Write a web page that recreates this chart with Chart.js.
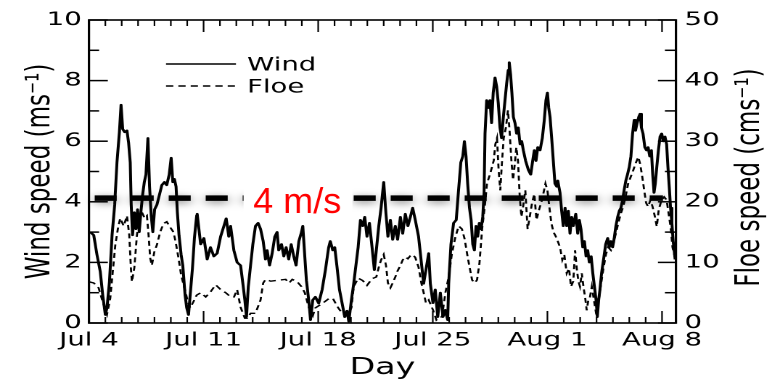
<!DOCTYPE html>
<html>
<head>
<meta charset="utf-8">
<script src="https://cdn.jsdelivr.net/npm/chart.js@4/dist/chart.umd.min.js"></script>
<style>
  html, body { margin: 0; padding: 0; background: #fff; overflow: hidden; }
  #wrap { width: 532px; height: 386px; transform: scaleX(1.451128); transform-origin: 0 0; }
  canvas { display: block; }
</style>
</head>
<body>
<div id="wrap"><canvas id="c" width="532" height="386"></canvas></div>
<script>
// ---------------- data ----------------
const tickDays   = [0, 7, 14, 21, 28, 35];
const tickLabels = ['Jul 4', 'Jul 11', 'Jul 18', 'Jul 25', 'Aug 1', 'Aug 8'];

// days since Jul 4 and wind speed (m/s)
const windDays = [
  0.08,0.29,0.49,0.69,0.84,1.00,1.10,1.25,1.41,1.57,1.71,1.86,1.96,2.06,2.18,2.32,2.42,2.52,2.58,2.66,
  2.77,2.87,2.97,3.07,3.17,3.27,3.38,3.48,3.60,3.70,3.80,3.90,4.01,4.15,4.29,4.45,4.61,4.75,4.90,5.02,
  5.12,5.22,5.32,5.40,5.50,5.63,5.73,5.87,5.97,6.08,6.18,6.32,6.44,6.58,
  6.61,6.82,7.02,7.22,7.42,7.63,7.83,8.04,8.24,8.38,8.54,8.65,8.85,9.05,9.26,9.40,9.52,9.62,9.73,9.87,
  10.01,10.17,10.33,10.48,10.64,10.78,10.88,11.03,11.19,11.35,11.49,11.59,11.76,11.90,12.04,12.20,12.35,12.51,12.65,12.82,
  12.98,13.06,13.18,13.28,13.42,13.53,13.67,
  13.83,14.03,14.24,14.44,14.64,14.74,14.89,15.01,15.15,15.30,15.46,15.62,15.76,15.87,16.03,16.17,16.27,16.44,16.58,16.72,
  16.84,16.98,17.13,17.29,17.43,17.55,17.70,17.84,18.00,18.14,18.26,18.41,18.55,18.71,18.85,19.02,19.16,19.32,19.48,19.63,
  19.77,19.93,20.13,20.30,20.44,20.58,20.75,
  20.85,21.01,21.15,21.30,21.46,21.62,21.76,21.91,21.97,22.11,22.27,22.43,22.56,22.71,22.83,22.93,23.03,23.13,23.24,23.34,
  23.44,23.54,23.64,23.74,23.84,23.95,24.05,24.13,24.19,24.29,24.39,24.49,24.59,24.69,24.80,24.90,25.00,25.10,25.20,25.31,
  25.41,25.51,25.61,25.67,25.75,25.83,25.92,26.02,26.12,26.22,26.33,26.43,26.53,26.67,26.84,26.98,27.10,27.20,27.30,27.41,
  27.55,27.69,27.81,27.91,28.00,28.08,28.16,28.26,28.36,28.46,28.57,
  28.63,28.77,28.87,28.97,29.08,29.18,29.28,29.38,29.48,29.58,29.73,29.85,29.95,30.05,30.16,30.26,30.36,30.46,30.56,30.67,
  30.77,30.87,30.97,31.05,31.13,31.21,31.31,31.43,31.56,31.68,31.78,31.88,31.98,32.08,32.18,32.29,32.39,32.49,32.59,32.69,
  32.79,32.89,33.00,33.10,33.20,33.30,33.38,33.48,33.58,33.66,33.74,33.84,33.95,34.05,34.15,34.25,34.35,34.43,34.51,34.59,
  34.68,34.78,34.88,34.98,35.08,35.18,35.28,35.36,35.44,35.52,35.60,35.68,35.80];
const windSpeed = [
  3.0,2.9,2.25,1.7,0.92,0.27,0.5,1.35,2.9,3.9,5.3,6.3,7.2,6.4,6.3,6.35,5.95,5.3,3.9,2.9,
  3.65,3.1,3.75,3.0,3.65,4.2,4.65,4.9,6.1,4.5,3.55,3.0,3.75,3.9,4.2,4.55,4.65,4.55,4.9,5.45,
  4.65,4.75,4.5,3.65,2.9,2.25,1.9,0.92,0.5,0.27,0.92,1.8,2.8,3.55,
  3.6,2.6,2.8,2.1,2.5,2.2,2.3,2.85,3.2,3.45,2.85,3.2,2.4,2.0,1.9,1.3,0.76,0.2,1.2,1.9,
  2.6,3.2,3.3,3.1,2.7,2.1,2.4,1.9,2.3,2.85,3.0,2.4,2.6,2.2,2.5,2.1,2.6,2.2,1.9,2.7,
  3.0,3.2,2.2,1.4,0.76,0.1,0.76,
  0.86,0.65,1.1,1.75,2.5,2.7,2.4,2.5,1.85,1.1,0.65,0.2,0.4,0.05,0.76,1.3,1.75,2.5,3.4,3.2,
  3.5,2.85,3.3,2.5,1.75,2.4,3.2,3.8,4.65,3.6,2.85,3.4,2.75,3.2,2.75,3.5,2.95,3.6,3.2,3.5,
  3.8,3.4,2.85,2.0,1.3,1.75,2.3,
  1.3,0.66,1.1,0.2,1.0,0.2,0.43,0.1,1.3,2.6,3.3,3.4,4.3,5.3,5.5,6.0,5.5,4.6,3.8,3.4,
  2.6,2.4,3.2,2.85,3.3,3.1,3.5,4.3,6.25,7.35,7.1,7.35,6.6,7.6,8.1,7.8,7.25,6.45,6.1,6.8,
  7.35,7.9,8.35,8.6,8.2,7.6,6.8,6.6,6.25,6.45,5.9,6.0,5.7,5.35,5.05,4.9,5.35,5.7,5.35,5.8,
  5.7,6.1,6.7,7.35,7.6,7.1,6.8,6.1,5.35,4.6,4.5,
  4.7,4.3,3.7,3.2,3.8,3.2,3.7,2.95,3.5,3.2,3.6,2.95,3.4,3.1,2.5,2.7,2.2,2.4,2.0,2.2,
  1.65,1.2,0.76,0.2,0.76,1.1,1.65,2.1,2.6,2.8,2.5,2.7,2.5,2.8,3.2,3.5,3.7,3.8,4.05,4.4,
  4.7,4.9,5.15,5.5,6.25,6.7,6.35,6.6,6.8,6.9,6.45,6.25,5.8,5.7,5.8,5.5,5.7,4.9,4.3,4.6,
  5.15,5.7,6.15,6.25,6.0,6.15,5.9,5.15,4.5,3.8,3.3,2.7,2.1];

// days since Jul 4 and floe speed (cm/s)
const floeDays = [
  0.00,0.29,0.59,0.84,1.10,1.30,1.45,1.61,1.77,1.91,2.12,2.32,2.46,2.56,2.62,2.77,2.93,3.07,3.23,3.40,
  3.54,3.64,3.74,3.84,3.99,4.15,4.35,4.55,4.75,4.96,5.16,5.30,5.47,5.63,5.83,6.04,6.18,6.38,6.58,
  6.83,7.13,7.44,7.74,8.05,8.35,8.66,8.86,9.05,9.26,9.52,9.67,9.87,10.17,10.48,10.64,10.79,11.10,11.40,11.71,
  12.01,12.22,12.42,12.72,12.98,13.18,13.42,13.67,
  13.83,14.24,14.64,14.89,15.15,15.46,15.76,16.03,16.17,16.44,16.72,16.98,17.29,17.55,17.70,17.84,18.00,18.14,18.26,18.41,
  18.55,18.71,18.85,19.02,19.16,19.32,19.48,19.63,19.77,19.93,20.13,20.30,20.44,20.58,20.75,21.02,21.22,21.42,21.56,21.77,
  21.97,22.17,22.38,22.58,22.78,22.95,23.09,23.24,23.40,23.56,23.70,23.85,24.01,24.17,24.31,24.51,24.72,24.82,24.92,25.02,
  25.12,25.23,25.33,25.47,25.59,25.69,25.80,25.90,26.00,26.10,26.20,26.31,26.41,26.51,26.65,26.79,26.92,27.06,27.20,27.33,
  27.47,27.67,27.88,28.00,28.12,28.24,28.37,28.49,
  28.63,28.77,28.91,29.03,29.18,29.32,29.44,29.58,29.69,29.79,29.89,29.99,30.10,30.20,30.30,30.40,30.50,30.60,30.71,30.81,
  30.91,31.01,31.11,31.25,31.41,31.57,31.71,31.88,32.02,32.18,32.33,32.49,32.63,32.77,32.93,33.10,33.24,33.38,33.55,33.66,
  33.79,33.91,34.03,34.15,34.29,34.42,34.56,34.68,34.80,34.97,35.13,35.28,35.40,35.52,35.64,35.78];
const floeSpeed = [
  6.8,6.6,5.8,3.5,1.4,4.1,8.4,12.9,15.6,17.3,16.0,17.7,14.5,9.1,6.8,9.1,14.5,17.3,18.3,17.3,
  17.7,14.5,10.7,9.5,11.7,12.9,15.0,16.4,16.7,15.8,15.0,13.3,10.7,7.9,5.8,3.5,2.5,3.5,4.6,
  5.0,4.3,5.2,6.3,5.5,5.0,4.3,4.3,5.5,2.6,0.8,0.8,1.6,1.6,3.8,6.6,7.2,6.9,7.0,7.1,
  7.2,6.6,7.2,6.8,6.0,5.0,2.6,1.2,
  2.5,3.2,4.0,4.1,2.8,1.6,1.2,2.5,6.0,7.4,7.0,6.2,7.3,7.6,9.2,10.4,11.3,9.5,6.6,5.8,
  6.6,7.6,8.6,9.5,10.4,10.9,10.6,11.1,11.3,10.8,9.2,6.6,5.0,3.3,3.8,2.1,0.5,1.0,1.0,5.0,
  7.6,11.5,14.2,16.0,15.5,13.8,11.5,9.3,7.1,6.6,7.1,9.9,15.5,19.1,23.0,24.7,26.8,29.5,30.5,25.2,
  21.9,26.8,30.5,32.3,35.1,31.7,26.8,23.6,26.1,29.0,26.8,20.8,17.5,19.1,21.9,15.5,17.5,19.8,21.3,17.0,
  18.5,20.3,23.0,21.9,19.1,16.5,15.0,14.4,
  13.5,12.5,10.4,11.3,8.2,9.0,6.0,6.9,12.0,9.0,6.9,6.0,8.2,6.0,4.3,2.1,3.8,4.3,6.0,4.3,
  2.6,1.0,3.3,6.0,8.8,11.3,12.5,12.0,13.0,14.8,16.5,18.1,19.2,20.8,23.0,24.2,25.2,26.3,27.4,26.3,
  24.2,21.9,19.8,19.2,20.3,19.2,17.6,15.9,18.7,20.3,20.8,20.3,18.1,15.9,12.5,10.9];

const thresholdText  = '4 m/s';
const thresholdLevel = 4.12;     // level at which the 4 m/s reference line sits in the picture

// ---------------- rendering ----------------
const STRETCH = 772 / 532;
const DPR = 2;

const framePlugin = {
  id: 'frameTicks',
  beforeDatasetsDraw(chart) {
    const { ctx, chartArea: a, scales } = chart;
    const x = scales.x, y = scales.y, y2 = scales.y2;
    ctx.save();
    ctx.strokeStyle = '#000';
    ctx.lineWidth = 1.6;
    ctx.strokeRect(a.left, a.top, a.right - a.left, a.bottom - a.top);
    ctx.lineWidth = 1.1;
    for (let d = Math.ceil(x.min); d <= x.max; d++) {
      const px = x.getPixelForValue(d);
      const len = tickDays.includes(d) ? 12 : 6;
      ctx.beginPath();
      ctx.moveTo(px, a.top); ctx.lineTo(px, a.top + len);
      ctx.moveTo(px, a.bottom); ctx.lineTo(px, a.bottom - len);
      ctx.stroke();
    }
    ctx.lineWidth = 1.5;
    for (let v = y.min; v <= y.max; v += 1) {
      const py = y.getPixelForValue(v);
      const len = v % 2 === 0 ? 13 : 7;
      ctx.beginPath(); ctx.moveTo(a.left, py); ctx.lineTo(a.left + len, py); ctx.stroke();
    }
    for (let v = y2.min; v <= y2.max; v += 5) {
      const py = y2.getPixelForValue(v);
      const len = v % 10 === 0 ? 12.4 : 7.6;
      ctx.beginPath(); ctx.moveTo(a.right, py); ctx.lineTo(a.right - len, py); ctx.stroke();
    }
    ctx.restore();
  }
};

const thresholdPlugin = {
  id: 'threshold',
  afterDatasetsDraw(chart, args, o) {
    const { ctx, scales } = chart;
    const py = scales.y.getPixelForValue(thresholdLevel);
    const x0 = scales.x.getPixelForValue(o.startDay);
    const x1 = scales.x.getPixelForValue(o.endDay);
    ctx.save();
    ctx.strokeStyle = '#000';
    ctx.lineWidth = 5.5;
    ctx.setLineDash([22 / STRETCH, 15 / STRETCH]);
    ctx.shadowColor = 'rgba(0,0,0,0.5)';
    ctx.shadowBlur = 8 * DPR;
    ctx.shadowOffsetY = 2 * DPR;
    ctx.beginPath(); ctx.moveTo(x0, py); ctx.lineTo(x1, py); ctx.stroke();
    ctx.restore();
    const bx0 = scales.x.getPixelForValue(o.boxFrom);
    const bx1 = scales.x.getPixelForValue(o.boxTo);
    ctx.save();
    ctx.fillStyle = '#fff';
    ctx.fillRect(bx0, py - 20, bx1 - bx0, 38);
    const cx = scales.x.getPixelForValue(o.labelDay);
    ctx.translate(cx, py + 15);
    ctx.scale(1 / STRETCH, 1);
    ctx.fillStyle = '#ff0000';
    ctx.font = "36px 'Liberation Sans'";
    ctx.textAlign = 'center';
    ctx.textBaseline = 'alphabetic';
    ctx.fillText(thresholdText, 0, 0);
    ctx.restore();
  }
};

const legendPlugin = {
  id: 'insideLegend',
  afterDraw(chart, args, o) {
    const { ctx } = chart;
    chart.data.datasets.forEach((ds, i) => {
      const y = o.y + i * o.rowGap;
      ctx.save();
      ctx.strokeStyle = ds.borderColor;
      ctx.lineWidth = o.lineWidth;
      ctx.setLineDash(ds.borderDash || []);
      ctx.beginPath(); ctx.moveTo(o.x, y); ctx.lineTo(o.x + o.lineLen, y); ctx.stroke();
      ctx.setLineDash([]);
      ctx.fillStyle = '#000';
      ctx.font = "19px 'DejaVu Sans'";
      ctx.textBaseline = 'alphabetic';
      ctx.fillText(ds.label, o.x + o.lineLen + o.textGap, y + o.baseline);
      ctx.restore();
    });
  }
};

const rightTitlePlugin = {
  id: 'rightTitle',
  afterDraw(chart, args, o) {
    const { ctx, chartArea: a } = chart;
    ctx.save();
    ctx.translate(a.right + o.offset, (a.top + a.bottom) / 2 + o.shift);
    ctx.rotate(-Math.PI / 2);
    ctx.fillStyle = '#000';
    ctx.font = "23px 'DejaVu Sans'";
    ctx.textAlign = 'center';
    ctx.textBaseline = 'alphabetic';
    ctx.fillText(o.text, 0, 0);
    ctx.restore();
  }
};

Chart.defaults.font.family = "'DejaVu Sans'";
Chart.defaults.color = '#000';

new Chart(document.getElementById('c'), {
  type: 'line',
  data: {
    datasets: [
      { label: 'Wind', data: windDays.map((d, i) => ({ x: d, y: windSpeed[i] })), yAxisID: 'y',
        borderColor: '#000', borderWidth: 2, pointRadius: 0, tension: 0, fill: false, borderJoinStyle: 'round' },
      { label: 'Floe', data: floeDays.map((d, i) => ({ x: d, y: floeSpeed[i] })), yAxisID: 'y2',
        borderColor: '#000', borderWidth: 1.4, borderDash: [5, 3.5], pointRadius: 0, tension: 0, fill: false }
    ]
  },
  options: {
    responsive: false,
    animation: false,
    devicePixelRatio: DPR,
    layout: { padding: { top: 20, left: 0, right: 0, bottom: 0 } },
    plugins: {
      legend: { display: false },
      tooltip: { enabled: false },
      threshold: { startDay: 0.35, endDay: 35.06, boxFrom: 9.44, boxTo: 16.09, labelDay: 12.72 },
      insideLegend: { x: 114.4, y: 64, rowGap: 22, lineLen: 48.2, textGap: 7.6, baseline: 6.5, lineWidth: 1.4 },
      rightTitle: { text: 'Floe speed (cms\u207B\u00B9)', offset: 57, shift: 6 }
    },
    scales: {
      x: {
        type: 'linear', position: 'bottom', min: 0, max: 35.85,
        afterBuildTicks: s => { s.ticks = tickDays.map(v => ({ value: v })); },
        ticks: { autoSkip: false, maxRotation: 0, padding: 6, font: { size: 19 },
                 callback: v => { const i = tickDays.indexOf(v); return i >= 0 ? tickLabels[i] : ''; } },
        grid: { display: false, drawTicks: false },
        border: { display: false },
        title: { display: true, text: 'Day', font: { size: 23 }, padding: { top: 0, bottom: 4 } },
        afterFit: s => { s.height = 63; }
      },
      y: {
        position: 'left', min: 0, max: 10,
        ticks: { stepSize: 2, padding: 5, font: { size: 19 } },
        grid: { display: false, drawTicks: false },
        border: { display: false },
        title: { display: true, text: 'Wind speed (ms\u207B\u00B9)', font: { size: 23 }, padding: { top: 14, bottom: 0 } },
        afterFit: s => { s.width = 61.3; }
      },
      y2: {
        position: 'right', min: 0, max: 50,
        ticks: { stepSize: 10, padding: 6, font: { size: 19 } },
        grid: { display: false, drawTicks: false },
        border: { display: false },
        afterFit: s => { s.width = 66.2; }
      }
    }
  },
  plugins: [framePlugin, thresholdPlugin, legendPlugin, rightTitlePlugin]
});
</script>
</body>
</html>
